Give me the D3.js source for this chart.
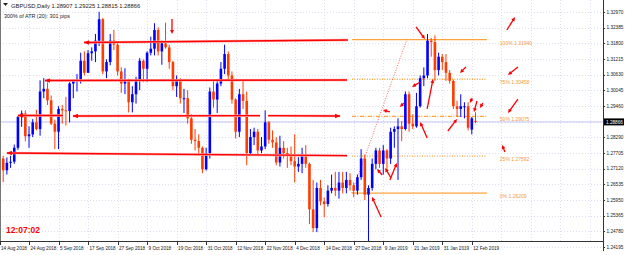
<!DOCTYPE html>
<html>
<head>
<meta charset="UTF-8">
<script src="https://d3js.org/d3.v7.min.js"></script>
<style>
  body { margin: 0; background: #fff; }
  svg { display: block; font-family: "Liberation Sans", Arial, sans-serif; }
</style>
</head>
<body>
<div id="chart"></div>
<script>
var width = 625, height = 255;
var plotRight = 603, plotBottom = 241;

// date labels, one every 8 daily bars, first bar = 14 Aug 2018
var tickLabels = ["14 Aug 2018", "24 Aug 2018", "5 Sep 2018", "17 Sep 2018", "27 Sep 2018",
  "9 Oct 2018", "19 Oct 2018", "31 Oct 2018", "12 Nov 2018", "22 Nov 2018", "4 Dec 2018",
  "14 Dec 2018", "27 Dec 2018", "9 Jan 2019", "21 Jan 2019", "31 Jan 2019", "12 Feb 2019"];
var barsPerTick = 8;

var priceLabels = [1.32970, 1.32385, 1.31800, 1.31215, 1.30630, 1.30045, 1.29460, 1.28875,
  1.28290, 1.27705, 1.27120, 1.26535, 1.25950, 1.25365, 1.24780, 1.24195];

// daily candles GBPUSD
var opens = [1.2764,1.2750,1.2706,1.2734,1.2738,1.2790,1.2905,1.2918,1.2833,1.2840,
  1.2885,1.2860,1.3000,1.3010,1.2967,1.2880,1.2850,1.2935,1.2930,1.2927,
  1.3030,1.3040,1.3045,1.3115,1.3070,1.3143,1.3150,1.3190,1.3270,1.3075,
  1.3110,1.3190,1.3175,1.3075,1.3030,1.3040,1.2960,1.2990,1.3040,1.3115,
  1.3085,1.3145,1.3160,1.3230,1.3150,1.3180,1.3165,1.3110,1.3020,1.3045,
  1.2975,1.2975,1.2900,1.2820,1.2815,1.2790,1.2710,1.2770,1.3000,1.2970,
  1.3030,1.3085,1.3140,1.3060,1.2970,1.2850,1.2990,1.2965,1.2770,1.2830,
  1.2850,1.2780,1.2795,1.2885,1.2820,1.2810,1.2735,1.2790,1.2770,1.2760,
  1.2740,1.2720,1.2730,1.2760,1.2730,1.2560,1.2490,1.2640,1.2590,1.2580,
  1.2630,1.2640,1.2630,1.2660,1.2640,1.2670,1.2650,1.2630,1.2680,1.2750,
  1.2615,1.2640,1.2730,1.2780,1.2730,1.2780,1.2750,1.2850,1.2860,1.2870,
  1.2860,1.2990,1.2880,1.2870,1.2945,1.3050,1.3060,1.3190,1.3185,1.3080,
  1.3130,1.3110,1.3070,1.3040,1.2945,1.2935,1.2945,1.2945,1.2858,1.28907];
var highs = [1.2779,1.2760,1.2754,1.2760,1.2802,1.2909,1.2929,1.2930,1.2870,1.2897,
  1.2932,1.3042,1.3050,1.3034,1.2985,1.2895,1.2945,1.2950,1.2980,1.3035,
  1.3045,1.3065,1.3145,1.3150,1.3155,1.3165,1.3215,1.3298,1.3275,1.3120,
  1.3215,1.3230,1.3185,1.3090,1.3087,1.3048,1.3020,1.3055,1.3125,1.3120,
  1.3150,1.3205,1.3255,1.3240,1.3190,1.3257,1.3175,1.3115,1.3060,1.3050,
  1.3010,1.3005,1.2915,1.2860,1.2840,1.2795,1.2790,1.3015,1.3040,1.3040,
  1.3110,1.3175,1.3150,1.3075,1.2975,1.3010,1.3045,1.3000,1.2860,1.2865,
  1.2860,1.2830,1.2930,1.2890,1.2855,1.2830,1.2835,1.2815,1.2790,1.2795,
  1.2840,1.2755,1.2790,1.2800,1.2735,1.2670,1.2660,1.2670,1.2605,1.2650,
  1.2690,1.2700,1.2700,1.2700,1.2700,1.2695,1.2660,1.2690,1.2785,1.2765,
  1.2650,1.2750,1.2790,1.2790,1.2800,1.2785,1.2865,1.2870,1.2900,1.2890,
  1.3000,1.3000,1.2915,1.2995,1.3060,1.3090,1.3215,1.3200,1.3210,1.3145,
  1.3140,1.3140,1.3080,1.3045,1.2965,1.2990,1.2960,1.2960,1.2905,1.29225];
var lows = [1.2723,1.2662,1.2690,1.2715,1.2730,1.2782,1.2868,1.2814,1.2790,1.2830,
  1.2855,1.2835,1.2975,1.2950,1.2875,1.2785,1.2785,1.2880,1.2873,1.2885,
  1.2975,1.3000,1.3030,1.3060,1.3070,1.3115,1.3110,1.3170,1.3065,1.3050,
  1.3098,1.3155,1.3060,1.2995,1.2990,1.2922,1.2922,1.2955,1.3005,1.3035,
  1.3035,1.3135,1.3135,1.3135,1.3100,1.3160,1.3085,1.3005,1.2980,1.2955,
  1.2920,1.2880,1.2805,1.2780,1.2760,1.2695,1.2705,1.2750,1.2940,1.2920,
  1.3020,1.3065,1.3045,1.2955,1.2825,1.2830,1.2935,1.2725,1.2760,1.2800,
  1.2760,1.2770,1.2785,1.2805,1.2790,1.2725,1.2720,1.2750,1.2715,1.2725,
  1.2660,1.2700,1.2695,1.2715,1.2505,1.2475,1.2475,1.2575,1.2530,1.2570,
  1.2620,1.2610,1.2600,1.2620,1.2620,1.2630,1.2605,1.2615,1.2670,1.2595,
  1.2438,1.2630,1.2710,1.2715,1.2690,1.2700,1.2730,1.2790,1.2670,1.2815,
  1.2855,1.2850,1.2860,1.2865,1.2940,1.3020,1.3050,1.3130,1.3040,1.3060,
  1.3080,1.3040,1.3030,1.2935,1.2905,1.2905,1.2900,1.2855,1.2840,1.28815];
var closes = [1.2750,1.2706,1.2734,1.2738,1.2790,1.2905,1.2918,1.2833,1.2840,1.2885,
  1.2860,1.3000,1.3010,1.2967,1.2880,1.2850,1.2935,1.2930,1.2927,1.3030,
  1.3040,1.3045,1.3115,1.3070,1.3143,1.3150,1.3190,1.3270,1.3075,1.3110,
  1.3190,1.3175,1.3075,1.3030,1.3040,1.2960,1.2990,1.3040,1.3115,1.3085,
  1.3145,1.3160,1.3230,1.3150,1.3180,1.3165,1.3110,1.3020,1.3045,1.2975,
  1.2975,1.2900,1.2820,1.2815,1.2790,1.2710,1.2770,1.3000,1.2970,1.3030,
  1.3085,1.3140,1.3060,1.2970,1.2850,1.2990,1.2965,1.2770,1.2830,1.2850,
  1.2780,1.2795,1.2885,1.2820,1.2810,1.2735,1.2790,1.2770,1.2760,1.2740,
  1.2720,1.2730,1.2760,1.2730,1.2560,1.2490,1.2640,1.2590,1.2580,1.2630,
  1.2640,1.2630,1.2660,1.2640,1.2670,1.2650,1.2630,1.2680,1.2750,1.2615,
  1.2640,1.2730,1.2780,1.2730,1.2780,1.2750,1.2850,1.2860,1.2870,1.2860,
  1.2990,1.2880,1.2870,1.2945,1.3050,1.3060,1.3190,1.3185,1.3080,1.3130,
  1.3110,1.3070,1.3040,1.2945,1.2935,1.2945,1.2945,1.2865,1.2900,1.28866];

var lastPrice = 1.28866;

// red support / resistance lines: [barFrom, priceFrom, barTo, priceTo, arrow at start, arrow at end]
var levelLines = [
  [22.9, 1.31831, 94.4, 1.31924, true, false],
  [12.3, 1.30412, 94.2, 1.30431, true, false],
  [5.0, 1.29105, 17.2, 1.29105, true, false],
  [19.9, 1.29087, 70.6, 1.29098, true, false],
  [72.8, 1.29098, 92.3, 1.29087, false, true],
  [2.0, 1.27705, 94.2, 1.27604, true, false]
];

// red arrow marks: [barTail, priceTail, barHead, priceHead]
var arrowMarks = [
  [46.75, 1.32709, 46.75, 1.32149],
  [103.4, 1.25315, 100.95, 1.26062],
  [112.9, 1.32410, 115.3, 1.31962],
  [126.4, 1.30916, 124.8, 1.30692],
  [140.5, 1.30916, 137.8, 1.30618],
  [140.5, 1.29721, 137.8, 1.29199],
  [137.5, 1.32298, 139.7, 1.32783],
  [137.0, 1.27742, 136.2, 1.28004],
  [114.0, 1.30356, 111.8, 1.30170],
  [115.9, 1.29348, 117.5, 1.30468],
  [115.9, 1.28265, 114.0, 1.28863],
  [121.5, 1.28527, 124.0, 1.28975],
  [105.8, 1.29236, 103.9, 1.29311],
  [109.6, 1.29572, 108.5, 1.29423],
  [128.1, 1.29759, 127.5, 1.29572],
  [129.4, 1.29647, 128.6, 1.29236],
  [131.0, 1.29572, 130.2, 1.29385],
  [103.7, 1.26884, 102.3, 1.27107],
  [106.1, 1.26772, 104.5, 1.27145],
  [105.8, 1.26697, 107.7, 1.27332]
];

// fibonacci retracement
var fibNames = ["100%", "75%", "50%", "25%", "0%"];
var fibPrices = [1.31940, 1.30458, 1.29075, 1.27592, 1.26209];
var fibFrom = 95.5, fibTo = 132.1, fibLabelAt = 135.6;
var fibAnchor = [95.5, 1.26209, 110.4, 1.31940];

var headerText = "GBPUSD,Daily  1.28907 1.29225 1.28815 1.28866";
var atrText = "300% of ATR (20):  301 pips";
var clockText = "12:07:02";

var svg = d3.select("#chart").append("svg")
    .attr("width", width)
    .attr("height", height);

svg.append("rect").attr("width", width).attr("height", height).attr("fill", "#fff");

var xscale = d3.scaleLinear().domain([0, opens.length - 1]).range([-0.5, 475.5]);
var yscale = d3.scaleLinear().domain([1.24195, 1.32970]).range([247, 12]);

svg.append("defs").append("clipPath").attr("id", "plot")
    .append("rect").attr("x", 0).attr("y", 0).attr("width", plotRight).attr("height", plotBottom);

var grid = svg.append("g").attr("stroke", "#d6d6ee").attr("stroke-width", 0.8)
    .attr("stroke-dasharray", "1,2");
grid.selectAll(".hg").data(priceLabels).enter().append("line")
    .attr("x1", 0).attr("x2", plotRight)
    .attr("y1", d => Math.round(yscale(d)) + 0.5).attr("y2", d => Math.round(yscale(d)) + 0.5);
grid.selectAll(".vg").data(d3.range(0, 21)).enter().append("line")
    .attr("x1", d => Math.round(xscale(d * barsPerTick)) + 0.5)
    .attr("x2", d => Math.round(xscale(d * barsPerTick)) + 0.5)
    .attr("y1", 0).attr("y2", plotBottom);

var plot = svg.append("g").attr("clip-path", "url(#plot)");

// bid line
plot.append("line")
    .attr("x1", 0).attr("x2", plotRight)
    .attr("y1", yscale(lastPrice)).attr("y2", yscale(lastPrice))
    .attr("stroke", "#c4c4f4").attr("stroke-width", 1);

// fib levels
var fibDash = ["none", "1,1.5", "4,1.5,1,1.5", "1,1.5", "none"];
plot.selectAll(".fib").data(fibPrices).enter().append("line")
    .attr("x1", xscale(fibFrom)).attr("x2", xscale(fibTo))
    .attr("y1", d => yscale(d)).attr("y2", d => yscale(d))
    .attr("stroke", "#ffa33a").attr("stroke-width", 1.3)
    .attr("stroke-dasharray", (d, i) => fibDash[i]);
plot.append("line")
    .attr("x1", xscale(fibAnchor[0])).attr("y1", yscale(fibAnchor[1]))
    .attr("x2", xscale(fibAnchor[2])).attr("y2", yscale(fibAnchor[3]))
    .attr("stroke", "#ff6666").attr("stroke-width", 1).attr("stroke-dasharray", "1,1.5");
plot.selectAll(".fibtxt").data(fibPrices).enter().append("text")
    .attr("x", xscale(fibLabelAt)).attr("y", d => yscale(d) + 5)
    .attr("font-size", 5).attr("fill", "#f29a3a")
    .text((d, i) => fibNames[i] + " " + d.toFixed(5));

// candles
var idx = d3.range(opens.length);
var candle = plot.selectAll(".candle").data(idx).enter().append("g");
candle.append("line")
    .attr("x1", i => xscale(i)).attr("x2", i => xscale(i))
    .attr("y1", i => yscale(highs[i])).attr("y2", i => yscale(lows[i]))
    .attr("stroke", i => closes[i] >= opens[i] ? "#0000ff" : "#ff3c00")
    .attr("stroke-width", 1);
candle.append("rect")
    .attr("x", i => xscale(i) - 1.3).attr("width", 2.6)
    .attr("y", i => yscale(Math.max(opens[i], closes[i])))
    .attr("height", i => Math.max(1, Math.abs(yscale(opens[i]) - yscale(closes[i]))))
    .attr("fill", i => closes[i] >= opens[i] ? "#0000ff" : "#ff3c00");

// arrow helper
function arrowHead(g, x1, y1, x2, y2, len, half) {
    var a = Math.atan2(y2 - y1, x2 - x1);
    var bx = x2 - len * Math.cos(a), by = y2 - len * Math.sin(a);
    var px = -Math.sin(a) * half, py = Math.cos(a) * half;
    g.append("path")
        .attr("d", "M" + x2 + "," + y2 + "L" + (bx + px) + "," + (by + py) + "L" + (bx - px) + "," + (by - py) + "Z")
        .attr("fill", "#ff0000");
}

var lines = plot.append("g");
levelLines.forEach(function (l) {
    var x1 = xscale(l[0]), y1 = yscale(l[1]), x2 = xscale(l[2]), y2 = yscale(l[3]);
    lines.append("line").attr("x1", x1).attr("y1", y1).attr("x2", x2).attr("y2", y2)
        .attr("stroke", "#ffb0b0").attr("stroke-width", 2.4);
    lines.append("line").attr("x1", x1).attr("y1", y1).attr("x2", x2).attr("y2", y2)
        .attr("stroke", "#ff0000").attr("stroke-width", 1.3);
    if (l[4]) arrowHead(lines, x2, y2, x1, y1, 5, 2.2);
    if (l[5]) arrowHead(lines, x1, y1, x2, y2, 5, 2.2);
});

var marks = plot.append("g");
arrowMarks.forEach(function (m) {
    var x1 = xscale(m[0]), y1 = yscale(m[1]), x2 = xscale(m[2]), y2 = yscale(m[3]);
    var a = Math.atan2(y2 - y1, x2 - x1);
    marks.append("line").attr("x1", x1).attr("y1", y1)
        .attr("x2", x2 - 3 * Math.cos(a)).attr("y2", y2 - 3 * Math.sin(a))
        .attr("stroke", "#ff0000").attr("stroke-width", 1.3);
    arrowHead(marks, x1, y1, x2, y2, 4, 1.9);
});

// frame
svg.append("line").attr("x1", 0.5).attr("x2", 0.5).attr("y1", 0).attr("y2", plotBottom)
    .attr("stroke", "#777");
svg.append("line").attr("x1", 0).attr("x2", plotRight).attr("y1", plotBottom + 0.5).attr("y2", plotBottom + 0.5)
    .attr("stroke", "#333");
svg.append("line").attr("x1", plotRight + 0.5).attr("x2", plotRight + 0.5).attr("y1", 0).attr("y2", plotBottom + 10)
    .attr("stroke", "#333");

// price axis
var pax = svg.append("g");
pax.selectAll("line").data(priceLabels).enter().append("line")
    .attr("x1", plotRight).attr("x2", plotRight + 2)
    .attr("y1", d => Math.round(yscale(d)) + 0.5).attr("y2", d => Math.round(yscale(d)) + 0.5)
    .attr("stroke", "#333");
pax.selectAll("text").data(priceLabels.filter(d => Math.abs(yscale(d) - yscale(lastPrice)) > 4)).enter().append("text")
    .attr("x", plotRight + 3.5).attr("y", d => yscale(d) + 1.7)
    .attr("font-size", 4.7).attr("fill", "#222")
    .text(d => d.toFixed(5));
pax.append("rect").attr("x", plotRight + 1).attr("y", yscale(lastPrice) - 3.5)
    .attr("width", 20).attr("height", 7).attr("fill", "#000");
pax.append("text").attr("x", plotRight + 3).attr("y", yscale(lastPrice) + 1.7)
    .attr("font-size", 4.7).attr("fill", "#fff").text(lastPrice.toFixed(5));

// date axis
var dax = svg.append("g");
dax.selectAll("line").data(tickLabels).enter().append("line")
    .attr("x1", (d, k) => Math.round(xscale(k * barsPerTick)) + 0.5)
    .attr("x2", (d, k) => Math.round(xscale(k * barsPerTick)) + 0.5)
    .attr("y1", plotBottom).attr("y2", plotBottom + 4).attr("stroke", "#333");
dax.selectAll("text").data(tickLabels).enter().append("text")
    .attr("x", (d, k) => xscale(k * barsPerTick) + 1.5).attr("y", 249.5)
    .attr("font-size", 4.6).attr("fill", "#222").text(d => d);

// header
svg.append("path").attr("d", "M3,3L8,3L5.5,6Z").attr("fill", "#222");
svg.append("text").attr("x", 11).attr("y", 7.5).attr("font-size", 5.8).attr("fill", "#222").text(headerText);
svg.append("text").attr("x", 4).attr("y", 18).attr("font-size", 5.4).attr("fill", "#222").text(atrText);
svg.append("text").attr("x", 6).attr("y", 233).attr("font-size", 8.5).attr("font-weight", "bold")
    .attr("fill", "#ff0000").text(clockText);
</script>
</body>
</html>
